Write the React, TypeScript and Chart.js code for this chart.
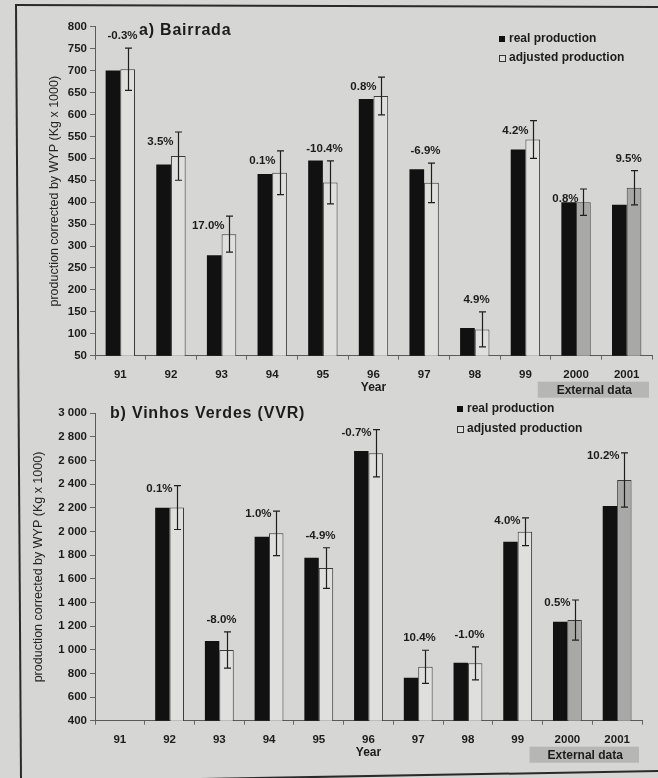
import React, { useEffect, useRef } from 'react';
import { Chart, registerables } from 'chart.js';

Chart.register(...registerables);

// ---------- data ----------
const years = ['91', '92', '93', '94', '95', '96', '97', '98', '99', '2000', '2001'];
const externalYears = ['2000', '2001'];

const bairradaReal = [700, 486, 279, 464, 495, 635, 475, 113, 520, 400, 394];
const bairradaAdjusted = [703, 505, 327, 467, 445, 642, 444, 110, 543, 400, 433];
const bairradaError = [48, 55, 41, 50, 49, 43, 45, 40, 43, 30, 39];
const bairradaPct = ['-0.3%', '3.5%', '17.0%', '0.1%', '-10.4%', '0.8%', '-6.9%', '4.9%', '4.2%', '0.8%', '9.5%'];
const bairradaPctPlace = ['top', 'left', 'left', 'left', 'top', 'left', 'top', 'top', 'left', 'left', 'top'];
const bairradaTicks = { min: 50, max: 800, step: 50 };

const vvrReal = [null, 2202, 1074, 1956, 1778, 2681, 763, 890, 1914, 1237, 2216];
const vvrAdjusted = [null, 2203, 998, 1985, 1691, 2662, 856, 885, 1998, 1251, 2436];
const vvrError = [null, 186, 153, 188, 172, 200, 140, 140, 118, 170, 230];
const vvrPct = [null, '0.1%', '-8.0%', '1.0%', '-4.9%', '-0.7%', '10.4%', '-1.0%', '4.0%', '0.5%', '10.2%'];
const vvrPctPlace = [null, 'left', 'top', 'left', 'top', 'left', 'top', 'top', 'left', 'left', 'left'];
const vvrTicks = { min: 400, max: 3000, step: 200 };

const seriesNames = ['real production', 'adjusted production'];
const yTitle = 'production corrected by WYP (Kg x 1000)';
const xTitle = 'Year';
const externalLabel = 'External data';

// ---------- style ----------
const FAMILY = '"Liberation Sans", Arial, Helvetica, sans-serif';
const INK = '#1c1c1c';
const BG = '#d6d6d4';
const WHITE_BAR = '#dfdfdd';
const GRAY_BAR = '#a8a8a6';

function spaced(v: number): string {
  if (v >= 1000) return `${Math.floor(v / 1000)} ${String(v % 1000).padStart(3, '0')}`;
  return String(v);
}

type PanelCfg = {
  title: string;
  real: (number | null)[];
  adjusted: (number | null)[];
  error: (number | null)[];
  pct: (string | null)[];
  place: (string | null)[];
  ticks: { min: number; max: number; step: number };
  height: number;
  pad: { left: number; top: number; right: number };
  yWidth: number;
  xHeight: number;
  yearPad: number;
  titlePos: { x: number; y: number };
  legendPos: { x: number; y: number; gap: number; sq: number };
  leftDy: number;
  tickFormat: (v: number) => string;
};

function makeOverlay(cfg: PanelCfg) {
  return {
    id: 'overlay',
    afterDatasetsDraw(chart: any) {
      const ctx = chart.ctx as CanvasRenderingContext2D;
      const y = chart.scales.y;
      const meta = chart.getDatasetMeta(1);
      ctx.save();
      cfg.adjusted.forEach((v, i) => {
        const e = cfg.error[i];
        if (v == null || e == null) return;
        const bar = meta.data[i];
        const x = Math.round(bar.x) + 0.5;
        const top = y.getPixelForValue(v + e);
        const bot = y.getPixelForValue(v - e);
        ctx.strokeStyle = '#1e1e1e';
        ctx.lineWidth = 1.2;
        ctx.beginPath();
        ctx.moveTo(x, top);
        ctx.lineTo(x, bot);
        ctx.moveTo(x - 3.5, top);
        ctx.lineTo(x + 3.5, top);
        ctx.moveTo(x - 3.5, bot);
        ctx.lineTo(x + 3.5, bot);
        ctx.stroke();

        const label = cfg.pct[i];
        if (label) {
          ctx.font = `bold 11.5px ${FAMILY}`;
          ctx.fillStyle = INK;
          ctx.textBaseline = 'middle';
          if (cfg.place[i] === 'left') {
            ctx.textAlign = 'right';
            ctx.fillText(label, x - 5, top + cfg.leftDy);
          } else {
            ctx.textAlign = 'center';
            ctx.fillText(label, x - 6, top - 12);
          }
        }
      });
      ctx.restore();
    },
    afterDraw(chart: any) {
      const ctx = chart.ctx as CanvasRenderingContext2D;
      const xs = chart.scales.x;
      const area = chart.chartArea;
      ctx.save();
      // title
      ctx.font = `bold 16px ${FAMILY}`;
      (ctx as any).letterSpacing = '0.8px';
      ctx.fillStyle = INK;
      ctx.textAlign = 'left';
      ctx.textBaseline = 'middle';
      ctx.fillText(cfg.title, cfg.titlePos.x, cfg.titlePos.y);
      (ctx as any).letterSpacing = '0px';

      // legend
      const L = cfg.legendPos;
      ctx.font = `bold 12px ${FAMILY}`;
      seriesNames.forEach((name, k) => {
        const cy = L.y + k * L.gap;
        if (k === 0) {
          ctx.fillStyle = '#111';
          ctx.fillRect(L.x, cy - L.sq / 2, L.sq, L.sq);
        } else {
          ctx.fillStyle = WHITE_BAR;
          ctx.fillRect(L.x + 0.5, cy - L.sq / 2 + 0.5, L.sq, L.sq);
          ctx.strokeStyle = '#333';
          ctx.lineWidth = 1;
          ctx.strokeRect(L.x + 0.5, cy - L.sq / 2 + 0.5, L.sq, L.sq);
        }
        ctx.fillStyle = INK;
        ctx.fillText(name, L.x + L.sq + 4, cy);
      });

      // external data box
      const first = years.indexOf(externalYears[0]);
      const catW = (area.right - area.left) / years.length;
      const bx = xs.getPixelForValue(first) - catW / 2 - 13;
      const br = area.right - 3;
      const by = area.bottom + 26;
      ctx.fillStyle = '#b6b6b4';
      ctx.fillRect(bx, by, br - bx, 16);
      ctx.fillStyle = INK;
      ctx.textAlign = 'center';
      ctx.font = `bold 12px ${FAMILY}`;
      ctx.fillText(externalLabel, (bx + br) / 2 + 1, by + 8.5);
      ctx.restore();
    },
  };
}

function buildConfig(cfg: PanelCfg): any {
  const tickFont = { family: FAMILY, size: 11.5, weight: 'bold' as const };
  return {
    type: 'bar',
    data: {
      labels: years,
      datasets: [
        {
          label: seriesNames[0],
          data: cfg.real,
          backgroundColor: '#111111',
          borderWidth: 0,
          categoryPercentage: 0.58,
          barPercentage: 1,
        },
        {
          label: seriesNames[1],
          data: cfg.adjusted,
          backgroundColor: years.map((y) => (externalYears.includes(y) ? GRAY_BAR : WHITE_BAR)),
          borderColor: '#3a3a3a',
          borderWidth: 1,
          categoryPercentage: 0.58,
          barPercentage: 1,
        },
      ],
    },
    options: {
      animation: false,
      responsive: false,
      devicePixelRatio: 1,
      layout: { padding: { left: cfg.pad.left, top: cfg.pad.top, right: cfg.pad.right, bottom: 0 } },
      plugins: {
        legend: { display: false },
        title: { display: false },
        tooltip: { enabled: false },
      },
      scales: {
        x: {
          offset: true,
          grid: { display: true, drawOnChartArea: false, drawTicks: true, tickLength: 4, color: '#666', offset: true },
          border: { color: '#5a5a5a', width: 1 },
          ticks: { font: tickFont, color: INK, padding: 8, maxRotation: 0, autoSkip: false },
          title: {
            display: true,
            text: xTitle,
            font: { family: FAMILY, size: 12, weight: 'bold' },
            color: INK,
            padding: { top: 0, bottom: cfg.yearPad },
          },
          afterFit: (s: any) => {
            s.height = cfg.xHeight;
          },
        },
        y: {
          min: cfg.ticks.min,
          max: cfg.ticks.max,
          ticks: {
            stepSize: cfg.ticks.step,
            font: tickFont,
            color: INK,
            padding: 3,
            autoSkip: false,
            callback: (v: any) => cfg.tickFormat(Number(v)),
          },
          grid: { display: true, drawOnChartArea: false, drawTicks: true, tickLength: 5, color: '#666' },
          border: { color: '#5a5a5a', width: 1 },
          title: {
            display: true,
            text: yTitle,
            font: { family: FAMILY, size: 12.5 },
            color: '#262626',
            padding: { top: 4, bottom: 4 },
          },
          afterFit: (s: any) => {
            s.width = cfg.yWidth;
          },
        },
      },
    },
    plugins: [makeOverlay(cfg)],
  };
}

const panelA: PanelCfg = {
  title: 'a) Bairrada',
  real: bairradaReal,
  adjusted: bairradaAdjusted,
  error: bairradaError,
  pct: bairradaPct,
  place: bairradaPctPlace,
  ticks: bairradaTicks,
  height: 400,
  pad: { left: 42.8, top: 26.7, right: 6 },
  yWidth: 52.2,
  xHeight: 44.3,
  yearPad: 5.1,
  titlePos: { x: 139, y: 31 },
  legendPos: { x: 499, y: 39, gap: 19, sq: 6 },
  leftDy: 10,
  tickFormat: (v) => String(v),
};

const panelB: PanelCfg = {
  title: 'b) Vinhos Verdes (VVR)',
  real: vvrReal,
  adjusted: vvrAdjusted,
  error: vvrError,
  pct: vvrPct,
  place: vvrPctPlace,
  ticks: vvrTicks,
  height: 378,
  pad: { left: 26.8, top: 13.3, right: 16 },
  yWidth: 68.2,
  xHeight: 57.3,
  yearPad: 18.1,
  titlePos: { x: 110, y: 14 },
  legendPos: { x: 457, y: 9, gap: 20, sq: 6 },
  leftDy: 3,
  tickFormat: spaced,
};

function Panel({ cfg, top }: { cfg: PanelCfg; top: number }) {
  const ref = useRef<HTMLCanvasElement | null>(null);
  useEffect(() => {
    if (!ref.current) return;
    const chart = new Chart(ref.current, buildConfig(cfg));
    return () => chart.destroy();
  }, [cfg]);
  return (
    <canvas
      ref={ref}
      width={658}
      height={cfg.height}
      style={{ position: 'absolute', left: 0, top, width: 658, height: cfg.height, display: 'block' }}
    />
  );
}

export default function App() {
  return (
    <div
      style={{
        position: 'absolute',
        left: 0,
        top: 0,
        width: 658,
        height: 778,
        overflow: 'hidden',
        background: BG,
      }}
    >
      <svg width={658} height={778} style={{ position: 'absolute', left: 0, top: 0 }}>
        <g stroke="#2a2a2a" strokeWidth={2} fill="none">
          <line x1={16} y1={5} x2={21} y2={780} />
          <line x1={15} y1={5} x2={660} y2={7} />
          <line x1={200} y1={779} x2={660} y2={771} />
        </g>
      </svg>
      <Panel cfg={panelA} top={0} />
      <Panel cfg={panelB} top={400} />
    </div>
  );
}
